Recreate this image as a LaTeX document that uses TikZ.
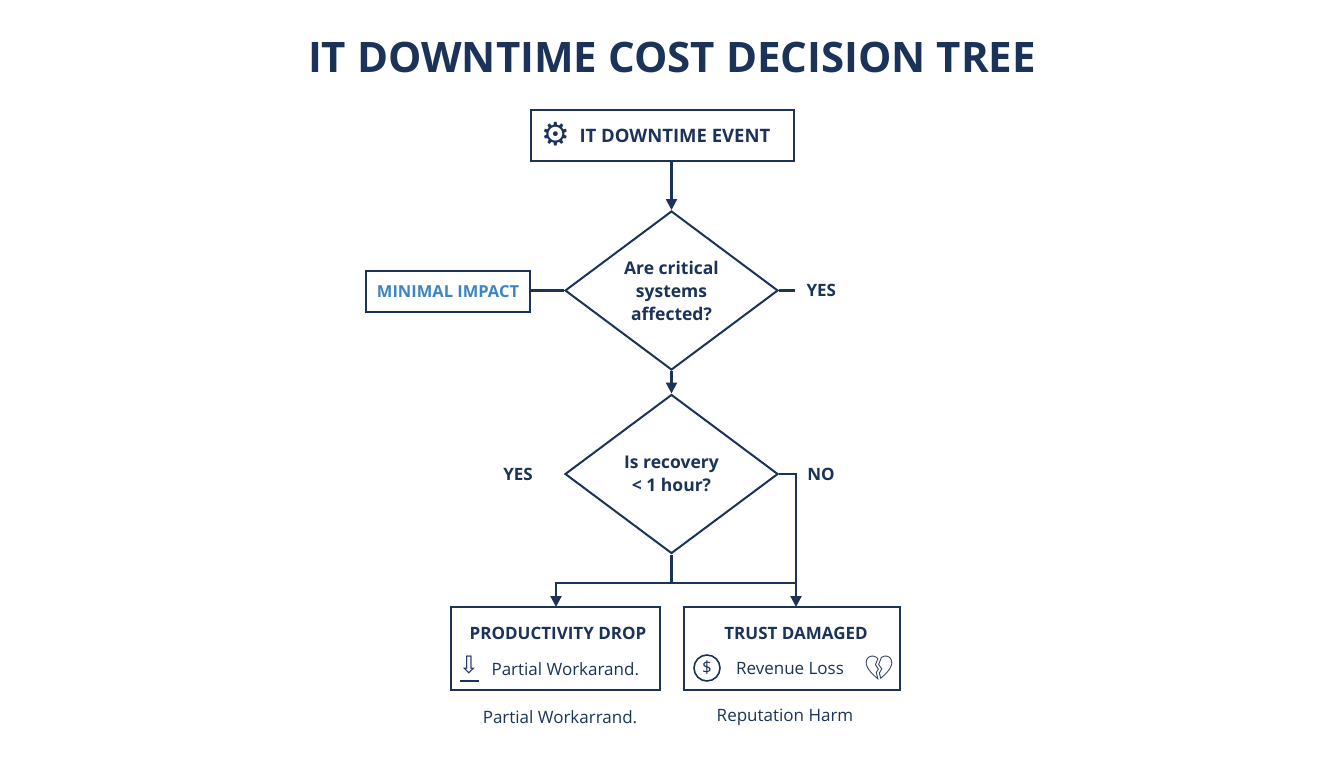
\documentclass[tikz,border=0pt]{standalone}
\usepackage{fontspec}
\setmainfont{Open Sans}
\newfontfamily\emo{Noto Emoji}
\newfontfamily\djv{DejaVu Sans}
\usetikzlibrary{shapes.geometric,arrows.meta}
\definecolor{navy}{HTML}{1B3358}
\definecolor{lblue}{HTML}{3D85C0}
\tikzset{
 box/.style={draw=navy,line width=2pt,rectangle,inner sep=0},
 dia/.style={draw=navy,line width=2pt,diamond,inner sep=0,minimum width=213pt,minimum height=159pt,align=center,font=\bfseries\fontsize{17.5}{23}\selectfont,text=navy},
 lbl/.style={font=\bfseries\fontsize{17}{20}\selectfont,text=navy},
 con/.style={draw=navy,line width=2.2pt},
 arr/.style={con,-{Triangle[length=11pt,width=11pt]}},
 sub/.style={font=\fontsize{17}{20}\selectfont,text=navy}
}
\begin{document}
\begin{tikzpicture}[x=1pt,y=-1pt]
\useasboundingbox[fill=white] (0,0) rectangle (1344,768);
\node[font=\bfseries\fontsize{42}{48}\selectfont,text=navy] (title) at (672,57) {IT DOWNTIME COST DECISION TREE};
\node[box,minimum width=263pt,minimum height=51pt] (top) at (662.5,135.5) {};
\node[lbl,anchor=west,font=\bfseries\fontsize{18.5}{20}\selectfont] (toptxt) at (576,135.5) {IT DOWNTIME EVENT};
\node[text=navy,font=\djv\fontsize{32}{34}\selectfont] (gear) at (556,134) {⚙};
\node[dia] (d1) at (671.5,290.5) {Are critical\\systems\\affected?};
\node[dia] (d2) at (671.5,474) {Is recovery\\< 1 hour?};
\node[box,minimum width=164pt,minimum height=41pt,font=\bfseries\fontsize{16.5}{20}\selectfont,text=lblue] (mi) at (448,291.5) {MINIMAL IMPACT};
\node[lbl,anchor=west] (yes1) at (803,290) {YES};
\coordinate (y1) at (795,290.5);
\node[lbl] (yes2) at (518,474) {YES};
\node[lbl] (no2) at (821,474) {NO};
\node[box,minimum width=209pt,minimum height=83pt] (pd) at (555.5,648.5) {};
\node[box,minimum width=216pt,minimum height=83pt] (td) at (792,648.5) {};
\node[lbl] (pdt) at (558,633) {PRODUCTIVITY DROP};
\node[lbl] (tdt) at (796,633) {TRUST DAMAGED};
\node[sub,anchor=west] (pds) at (488,669) {Partial Workarand.};
\node[text=navy,font=\djv\fontsize{24}{26}\selectfont] (darr) at (469,665) {⇩};
\draw[navy,line width=1.6pt] (460,681) -- (479,681);
\node[sub] (tds) at (790,669) {Revenue Loss};
\node[draw=navy,line width=1.6pt,circle,minimum size=26pt,inner sep=0,text=navy,font=\fontsize{17}{18}\selectfont] (dol) at (707,668) {\$};
\node[text=navy,font=\emo\fontsize{24}{26}\selectfont] (heart) at (879,668) {💔};
\node[sub] (b1) at (560,717) {Partial Workarrand.};
\node[sub] (b2) at (785,717) {Reputation Harm};
\coordinate (j) at (671.5,583);
\coordinate (r) at (796,474);
\coordinate (pdin) at (556,607);
\coordinate (tdin) at (796,607);
\draw[arr] (top.south -| d1.north) -- (d1.north);
\draw[con] (d1.west) -- (d1.west -| mi.east);
\draw[con] (d1.east) -- (y1);
\draw[arr] (d1.south) -- (d2.north);
\draw[con] (d2.south) -- (j);
\draw[arr] (j) -| (pdin);
\draw[arr] (d2.east) -- (r) -- (tdin);
\draw[con] (j) -- (796,583);
\end{tikzpicture}
\end{document}
